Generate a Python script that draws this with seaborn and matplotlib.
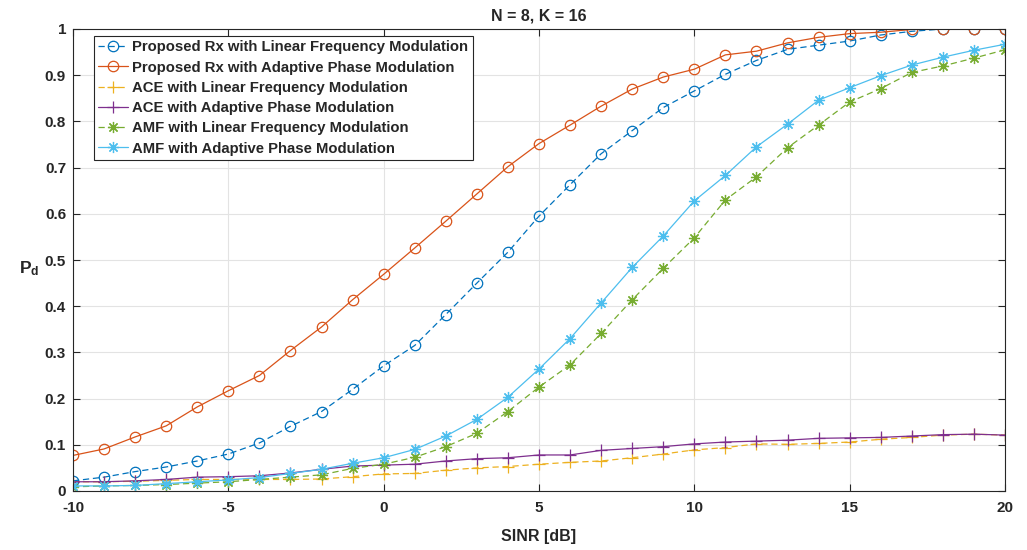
import numpy as np
import pandas as pd
import matplotlib
matplotlib.use("Agg")
import matplotlib.pyplot as plt
import seaborn as sns

sinr = list(range(-10, 21))

prop_lfm = [0.022, 0.030, 0.042, 0.052, 0.065, 0.080, 0.104, 0.140, 0.172, 0.220,
            0.271, 0.315, 0.382, 0.450, 0.517, 0.595, 0.663, 0.730, 0.780, 0.830,
            0.866, 0.902, 0.932, 0.956, 0.965, 0.974, 0.987, 0.995, 1.000, 1.000, 1.000]
prop_apm = [0.077, 0.091, 0.117, 0.141, 0.182, 0.217, 0.250, 0.304, 0.355, 0.414,
            0.469, 0.526, 0.584, 0.643, 0.702, 0.752, 0.792, 0.833, 0.870, 0.896,
            0.913, 0.944, 0.952, 0.970, 0.982, 0.990, 0.993, 0.999, 1.000, 1.000, 1.000]
ace_lfm = [0.020, 0.020, 0.021, 0.023, 0.025, 0.025, 0.025, 0.025, 0.026, 0.031,
           0.037, 0.038, 0.045, 0.050, 0.053, 0.058, 0.062, 0.065, 0.072, 0.080,
           0.089, 0.094, 0.102, 0.101, 0.103, 0.106, 0.112, 0.116, 0.121, 0.123, 0.121]
ace_apm = [0.020, 0.020, 0.022, 0.025, 0.030, 0.031, 0.033, 0.039, 0.047, 0.054,
           0.056, 0.058, 0.065, 0.070, 0.072, 0.078, 0.078, 0.088, 0.092, 0.096,
           0.102, 0.106, 0.108, 0.110, 0.114, 0.115, 0.116, 0.119, 0.122, 0.123, 0.121]
amf_lfm = [0.009, 0.011, 0.012, 0.014, 0.017, 0.020, 0.025, 0.030, 0.035, 0.049,
           0.058, 0.073, 0.096, 0.125, 0.172, 0.225, 0.273, 0.341, 0.414, 0.482,
           0.548, 0.630, 0.680, 0.743, 0.792, 0.842, 0.871, 0.906, 0.920, 0.937, 0.955]
amf_apm = [0.011, 0.011, 0.012, 0.016, 0.020, 0.024, 0.029, 0.038, 0.047, 0.060,
           0.072, 0.090, 0.119, 0.155, 0.203, 0.264, 0.330, 0.407, 0.484, 0.552,
           0.628, 0.683, 0.745, 0.794, 0.846, 0.873, 0.899, 0.922, 0.939, 0.954, 0.967]

labels = ["Proposed Rx with Linear Frequency Modulation",
          "Proposed Rx with Adaptive Phase Modulation",
          "ACE with Linear Frequency Modulation",
          "ACE with Adaptive Phase Modulation",
          "AMF with Linear Frequency Modulation",
          "AMF with Adaptive Phase Modulation"]
series = [prop_lfm, prop_apm, ace_lfm, ace_apm, amf_lfm, amf_apm]
colors = ["#0072BD", "#D95319", "#EDB120", "#7E2F8E", "#77AC30", "#4DBEEE"]
markers = ["o", "o", "+", "+", (8, 2, 0), (8, 2, 0)]
styles = [(0, (5, 3)), "-", (0, (5, 3)), "-", (0, (5, 3)), "-"]

sns.set_theme(style="whitegrid")
plt.rcParams['font.family'] = ['Liberation Sans', 'DejaVu Sans']
plt.rcParams['axes.unicode_minus'] = False
plt.rcParams['mathtext.fontset'] = 'custom'
plt.rcParams['mathtext.rm'] = 'Liberation Sans'
plt.rcParams['mathtext.bf'] = 'Liberation Sans:bold'

fig = plt.figure(figsize=(10.27, 5.5), dpi=100)
ax = fig.add_axes([73/1027, 1 - 491/550, (1005-73)/1027, (491-29)/550])
ax.set_facecolor("white")

for lab, ys, c, m, ls in zip(labels, series, colors, markers, styles):
    df = pd.DataFrame({"SINR": sinr, "Pd": ys})
    mfc = "none" if m == "o" else c
    sns.lineplot(data=df, x="SINR", y="Pd", ax=ax, color=c, linestyle=ls,
                 marker=m, markersize=7.5 if m == "o" else 8,
                 markerfacecolor=mfc, markeredgecolor=c, markeredgewidth=0.9,
                 linewidth=0.9, label=lab)

ax.set_xlim(-10, 20)
ax.set_ylim(0, 1)
ax.set_xticks(range(-10, 21, 5))
ax.set_yticks(np.arange(0, 1.01, 0.1))
ax.set_yticklabels(["0", "0.1", "0.2", "0.3", "0.4", "0.5", "0.6", "0.7", "0.8", "0.9", "1"])
ax.grid(True, color="#e3e3e3", linewidth=0.8)
for s in ax.spines.values():
    s.set_visible(True)
    s.set_color("#262626")
    s.set_linewidth(0.8)
ax.tick_params(axis="both", direction="in", length=5, width=0.8, color="#262626",
               labelsize=11, top=True, right=True, bottom=True, left=True)
ax.tick_params(axis="y", pad=5)
ax.tick_params(axis="x", pad=7)
for t in ax.get_xticklabels() + ax.get_yticklabels():
    t.set_fontweight("bold")
    t.set_color("#262626")

ax.set_xlabel("SINR [dB]", fontsize=11.5, fontweight="bold", color="#262626", labelpad=10)
ax.set_ylabel(r"$\mathbf{P_d}$", fontsize=12.5, color="#262626", rotation=0)
ax.yaxis.set_label_coords(-0.047, 0.46)
ax.set_title("N = 8, K = 16", fontsize=11.5, fontweight="bold", color="#262626", pad=6)

leg = ax.legend(loc="upper left", bbox_to_anchor=(0.022, 0.985), prop={"weight": "bold", "size": 10.7},
                frameon=True, fancybox=False, framealpha=1, edgecolor="#262626",
                handlelength=2.0, handletextpad=0.3, labelspacing=0.42, borderpad=0.3,
                borderaxespad=0)
leg.get_frame().set_linewidth(0.8)

fig.savefig("out.png", dpi=100)
